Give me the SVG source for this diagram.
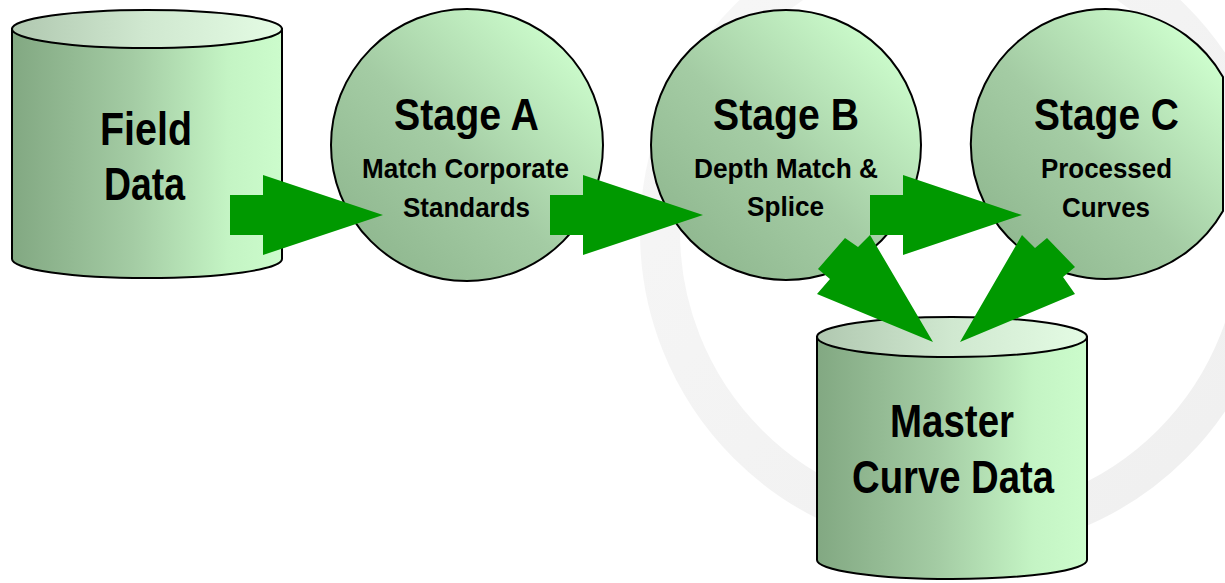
<svg xmlns="http://www.w3.org/2000/svg" width="1225" height="583" viewBox="0 0 1225 583">
  <defs>
    <linearGradient id="cylBody" x1="0" y1="0" x2="1" y2="0">
      <stop offset="0" stop-color="#82a882"/>
      <stop offset="0.45" stop-color="#a4cca4"/>
      <stop offset="0.8" stop-color="#c4f4c4"/>
      <stop offset="1" stop-color="#ccfccc"/>
    </linearGradient>
    <linearGradient id="cylTop" x1="0" y1="0" x2="1" y2="0">
      <stop offset="0" stop-color="#b0c8b0"/>
      <stop offset="0.5" stop-color="#d0e8d0"/>
      <stop offset="1" stop-color="#e4fce4"/>
    </linearGradient>
    <linearGradient id="circ" x1="0.1" y1="0.85" x2="0.85" y2="0.1">
      <stop offset="0" stop-color="#90b890"/>
      <stop offset="0.45" stop-color="#a4cca4"/>
      <stop offset="1" stop-color="#ccfccc"/>
    </linearGradient>
    <linearGradient id="wm" x1="0" y1="0" x2="1" y2="1">
      <stop offset="0" stop-color="#f7f7f7"/>
      <stop offset="1" stop-color="#efefef"/>
    </linearGradient>
  </defs>
  <style>
    .shape { stroke: #000; stroke-width: 2; }
    .arrow { fill: #009900; stroke: none; }
    .t { font-family: "Liberation Sans", Arial, sans-serif; font-weight: bold; fill: #000; }
    .big { font-size: 46px; }
    .title { font-size: 45px; }
    .sub { font-size: 27px; }
  </style>

  <g id="watermark">
    <circle cx="960" cy="232" r="300" fill="none" stroke="url(#wm)" stroke-width="40"/>
  </g>

  <g id="field-data">
    <path class="shape" fill="url(#cylBody)" d="M12,29 L12,259 A135,19 0 0,0 282,259 L282,29 Z"/>
    <ellipse class="shape" fill="url(#cylTop)" cx="147" cy="29" rx="135" ry="19"/>
    <text class="t big" x="100" y="145" textLength="92" lengthAdjust="spacingAndGlyphs">Field</text>
    <text class="t big" x="104" y="200" textLength="81" lengthAdjust="spacingAndGlyphs">Data</text>
  </g>

  <g id="stage-a">
    <circle class="shape" fill="url(#circ)" cx="467" cy="145" r="136"/>
    <text class="t title" x="394" y="130" textLength="145" lengthAdjust="spacingAndGlyphs">Stage A</text>
    <text class="t sub" x="362" y="178" textLength="207" lengthAdjust="spacingAndGlyphs">Match Corporate</text>
    <text class="t sub" x="403" y="217" textLength="127" lengthAdjust="spacingAndGlyphs">Standards</text>
  </g>

  <g id="stage-b">
    <circle class="shape" fill="url(#circ)" cx="786" cy="145" r="135"/>
    <text class="t title" x="713" y="130" textLength="146" lengthAdjust="spacingAndGlyphs">Stage B</text>
    <text class="t sub" x="694" y="178" textLength="184" lengthAdjust="spacingAndGlyphs">Depth Match &amp;</text>
    <text class="t sub" x="747" y="216" textLength="77" lengthAdjust="spacingAndGlyphs">Splice</text>
  </g>

  <g id="stage-c">
    <path class="shape" fill="url(#circ)" d="M1223,77 A135,135 0 1,0 1223,211 Z"/>
    <text class="t title" x="1034" y="130" textLength="145" lengthAdjust="spacingAndGlyphs">Stage C</text>
    <text class="t sub" x="1041" y="178" textLength="131" lengthAdjust="spacingAndGlyphs">Processed</text>
    <text class="t sub" x="1062" y="217" textLength="88" lengthAdjust="spacingAndGlyphs">Curves</text>
  </g>

  <g id="master-curve-data">
    <path class="shape" fill="url(#cylBody)" d="M817,337 L817,560 A135,19 0 0,0 1087,560 L1087,337 Z"/>
    <ellipse class="shape" fill="url(#cylTop)" cx="952" cy="337" rx="135" ry="20"/>
    <text class="t big" x="890" y="437" textLength="124" lengthAdjust="spacingAndGlyphs">Master</text>
    <text class="t big" x="852" y="493" textLength="202" lengthAdjust="spacingAndGlyphs">Curve Data</text>
  </g>

  <g id="connectors">
    <polygon class="arrow" points="230,195 263,195 263,175 383,215 263,255 263,235 230,235"/>
    <polygon class="arrow" points="550,195 583,195 583,175 703,215 583,255 583,235 550,235"/>
    <polygon class="arrow" points="870,195 903,195 903,175 1022,215 903,255 903,235 870,235"/>
    <polygon class="arrow" points="818,269 845,238 858,247 870,235 933,342 817,294 830,279"/>
    <polygon class="arrow" points="1047,238 1075,267 1063,277 1075,294 960,342 1022,235 1035,248"/>
  </g>
</svg>
